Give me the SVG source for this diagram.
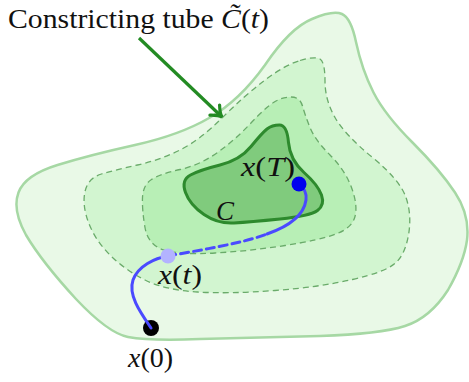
<svg xmlns="http://www.w3.org/2000/svg" width="469" height="382" viewBox="0 0 469 382">
<style>
.dash{stroke:#6aab6a;stroke-width:1.3;stroke-dasharray:6 4;}
.lbl{font-family:"Liberation Serif","DejaVu Serif",serif;font-size:27px;fill:#111;}
.it{font-style:italic;}
.traj{fill:none;stroke:#4a4aff;stroke-width:3;stroke-linecap:round;}
</style>
<defs>
<marker id="arr" markerUnits="userSpaceOnUse" markerWidth="20" markerHeight="20" refX="0" refY="0" viewBox="-12 -10 14 20" orient="auto" overflow="visible">
<path d="M-10,-7 Q-4,-1 0,0 Q-4,1 -10,7" fill="none" stroke="#238b23" stroke-width="3.2" stroke-linecap="round"/>
</marker>
</defs>
<rect width="469" height="382" fill="#fff"/>
<g id="tube-outer">
<path d="M312,19 Q333,10 342,14 Q351,18 356,42 Q362,70 373.5,92.5 Q385,115 412.5,142.5 Q440,170 455,192.5 Q470,215 467,240 Q464,262 448,290 Q430,318 405,326 Q380,334 320,336 Q250,338 200,339 Q150,341 128,337 Q108,333 76,299 Q42,262 26,235 Q12,210 18.5,192.5 Q25,175 57.5,165 Q90,155 135,145 Q180,135 210,117.5 Q240,100 265,65 Q290,28 312,19 Z" fill="#e9f9e7" stroke="#a6d8a4" stroke-width="2.5"/>
</g>
<g id="tube-mid">
<path class="dash" d="M300,60.5 Q315,56 320,59 Q325,62 325,81 Q325,100 335,117.5 Q345,135 372.5,157.5 Q400,180 406,197.5 Q412,215 408.5,235 Q405,255 395,263.5 Q385,272 352.5,279.5 Q320,287 275,290.5 Q230,294 197.5,292 Q165,290 145,280 Q125,270 110,255 Q95,240 88.5,222.5 Q82,205 85,191.5 Q88,178 101.5,174 Q115,170 137.5,165 Q160,160 180,150 Q200,140 222.5,117.5 Q245,95 265,80 Q285,65 300,60.5 Z" fill="#d2f5d0"/>
</g>
<g id="tube-inner">
<path class="dash" d="M291,97 Q300,97 302.5,106 Q305,115 310,127.5 Q315,140 330,155 Q345,170 351.5,187.5 Q358,205 355,216.5 Q352,228 336,234 Q320,240 285,245.5 Q250,251 215,253 Q180,255 164,250 Q148,245 145,227.5 Q142,210 142.5,197.5 Q143,185 151.5,179.5 Q160,174 180,169.5 Q200,165 217.5,152.5 Q235,140 250,124 Q265,108 273.5,102.5 Q282,97 291,97 Z" fill="#b8efb6"/>
</g>
<g id="target-set">
<path d="M279.5,125 Q287,125 288.5,142.5 Q290,160 304,172.5 Q318,185 321.5,195 Q325,205 317.5,210.5 Q310,216 280,219 Q250,222 234,223 Q218,224 204,214.5 Q190,205 185.5,192.5 Q181,180 190.5,175 Q200,170 220,165 Q240,160 251,146.5 Q262,133 267,129 Q272,125 279.5,125 Z" fill="#80cb7d" stroke="#2d8a2d" stroke-width="3"/>
<text class="lbl it" x="216" y="220" font-size="28">C</text>
</g>
<g id="trajectory">
<path class="traj" d="M151,328 C140,312 128,295 133,280 C138,266 155,258 168,256"/>
<path class="traj" d="M168,256 C200,250 240,244 267,234" stroke-dasharray="8 5" stroke-linecap="butt" stroke-width="3.5"/>
<path class="traj" d="M267,234 C290,226 304,214 306,200 C307,192 303,187 299,184"/>
</g>
<g id="x0">
<circle cx="151" cy="328" r="8" fill="#000"/>
<path d="M151,328 L147,322" stroke="#4a4aff" stroke-width="3" stroke-linecap="round"/>
<text class="lbl" x="128" y="367" textLength="45" lengthAdjust="spacingAndGlyphs"><tspan class="it">x</tspan>(0)</text>
</g>
<g id="xt">
<circle cx="168" cy="256" r="7.5" fill="#b3b3ff"/>
<text class="lbl" x="158" y="284" textLength="44" lengthAdjust="spacingAndGlyphs"><tspan class="it">x</tspan>(<tspan class="it">t</tspan>)</text>
</g>
<g id="xT">
<circle cx="299" cy="184" r="7.5" fill="#0000ee"/>
<text class="lbl" x="241" y="176" textLength="54" lengthAdjust="spacingAndGlyphs"><tspan class="it">x</tspan>(<tspan class="it">T</tspan>)</text>
</g>
<g id="connectors">
<path d="M139,38 L222,117" stroke="#238b23" stroke-width="3.2" fill="none" marker-end="url(#arr)"/>
</g>
<g id="title">
<text class="lbl" x="8" y="28" font-size="26" textLength="261" lengthAdjust="spacingAndGlyphs">Constricting tube <tspan class="it">C̃</tspan>(<tspan class="it">t</tspan>)</text>
</g>
</svg>
